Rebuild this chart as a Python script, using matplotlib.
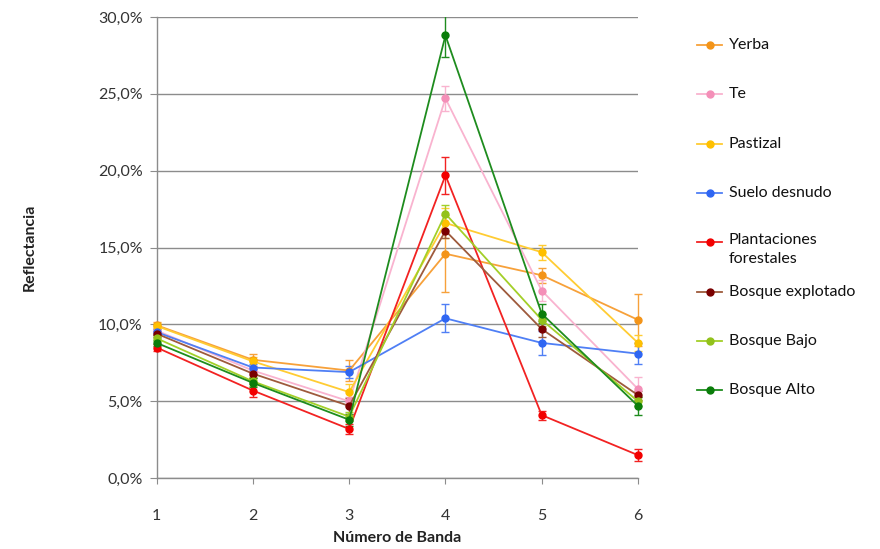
import numpy as np
import matplotlib
matplotlib.use('Agg')
import matplotlib.pyplot as plt
from matplotlib.lines import Line2D
from matplotlib.patches import Rectangle
from matplotlib.ticker import FuncFormatter

plt.rcParams['font.family'] = ['Lato', 'DejaVu Sans']

bandas = [1, 2, 3, 4, 5, 6]

nombres = ['Yerba', 'Te', 'Pastizal', 'Suelo desnudo', 'Plantaciones\nforestales',
           'Bosque explotado', 'Bosque Bajo', 'Bosque Alto']

yerba = [9.95, 7.7, 7.0, 14.6, 13.2, 10.3]
te = [9.6, 7.0, 5.0, 24.7, 12.2, 5.8]
pastizal = [9.9, 7.6, 5.6, 16.6, 14.7, 8.8]
suelo = [9.5, 7.2, 6.9, 10.4, 8.8, 8.1]
plantaciones = [8.5, 5.7, 3.2, 19.7, 4.1, 1.5]
bosque_explotado = [9.4, 6.8, 4.7, 16.1, 9.7, 5.4]
bosque_bajo = [9.1, 6.3, 4.0, 17.2, 10.3, 5.0]
bosque_alto = [8.8, 6.2, 3.8, 28.8, 10.7, 4.7]

err_yerba = [0.2, 0.4, 0.7, 2.5, 0.5, 1.7]
err_te = [0.2, 0.3, 0.3, 0.8, 0.7, 0.8]
err_pastizal = [0.2, 0.3, 0.5, 1.0, 0.5, 0.5]
err_suelo = [0.2, 0.2, 0.4, 0.9, 0.8, 0.7]
err_plantaciones = [0.2, 0.4, 0.3, 1.2, 0.3, 0.4]
err_explotado = [0.2, 0.3, 0.5, 0.5, 0.5, 0.3]
err_bajo = [0.2, 0.3, 0.3, 0.6, 0.4, 0.3]
err_alto = [0.2, 0.3, 0.4, 1.4, 0.6, 0.6]

valores = [yerba, te, pastizal, suelo, plantaciones, bosque_explotado, bosque_bajo, bosque_alto]
errores = [err_yerba, err_te, err_pastizal, err_suelo, err_plantaciones,
           err_explotado, err_bajo, err_alto]

# color de linea, color de marcador
colores = [('#F7A13A', '#F39419'), ('#F9B3CF', '#F48FB8'), ('#FFCC33', '#FFC000'),
           ('#4F7FF5', '#2F66F2'), ('#F22222', '#F20000'), ('#9E5A3C', '#7A0000'),
           ('#A3CF28', '#92C21B'), ('#1E8C1E', '#0A7D0A')]

fig = plt.figure(figsize=(8.8, 5.49), dpi=100)
ax = fig.add_axes([0.178, 0.129, 0.547, 0.840])

# recorte solo por arriba (las barras en la banda 6 quedan enteras)
recorte = Rectangle((-0.1, -0.1), 1.2, 1.1, transform=ax.transAxes,
                    fill=False, visible=False)
ax.add_patch(recorte)

for vals, errs, (lc, mc) in zip(valores, errores, colores):
    cont = ax.errorbar(bandas, vals, yerr=errs, color=lc, lw=1.3, marker='o', ms=5,
                       mfc=mc, mec=mc, ecolor=lc, elinewidth=1.0, capsize=3,
                       capthick=1.0, zorder=3)
    cont[0].set_clip_on(False)
    for a in list(cont[1]) + list(cont[2]):
        a.set_clip_path(recorte)

ax.set_xlim(1, 6)
ax.set_ylim(0, 30)
ax.set_yticks(np.arange(0, 31, 5))
ax.set_xticks(bandas)
ax.yaxis.set_major_formatter(FuncFormatter(lambda v, p: f'{v:.1f}%'.replace('.', ',')))
ax.grid(axis='y', color='#8c8c8c', lw=1.0)
ax.set_axisbelow(True)
for s in ['top', 'right']:
    ax.spines[s].set_visible(False)
for s in ['left', 'bottom']:
    ax.spines[s].set_color('#8c8c8c')
    ax.spines[s].set_linewidth(1.0)
ax.tick_params(axis='both', colors='#8c8c8c', labelcolor='#333333', labelsize=11.5, length=4)
ax.tick_params(axis='y', length=5, pad=5)
ax.tick_params(axis='x', pad=18)

ax.set_ylabel('Reflectancia', fontsize=11.5, fontweight='bold', labelpad=44, color='#222222')
ax.set_xlabel('Número de Banda', fontsize=11.5, fontweight='bold', labelpad=6, color='#222222')

# leyenda a mano (espaciado fijo como en Excel)
y0 = 0.918
dy = 0.0898
for i, (nombre, (lc, mc)) in enumerate(zip(nombres, colores)):
    yy = y0 - i * dy
    fig.add_artist(Line2D([0.792, 0.821], [yy, yy], color=lc, lw=1.3,
                          transform=fig.transFigure))
    fig.add_artist(Line2D([0.8065], [yy], color=mc, marker='o', ms=5,
                          transform=fig.transFigure))
    if '\n' in nombre:
        fig.text(0.828, yy + 0.017, nombre, fontsize=11.5, va='top', ha='left',
                 color='#111111', linespacing=1.45)
    else:
        fig.text(0.828, yy, nombre, fontsize=11.5, va='center', ha='left',
                 color='#111111')

fig.savefig('out.png', dpi=100)
